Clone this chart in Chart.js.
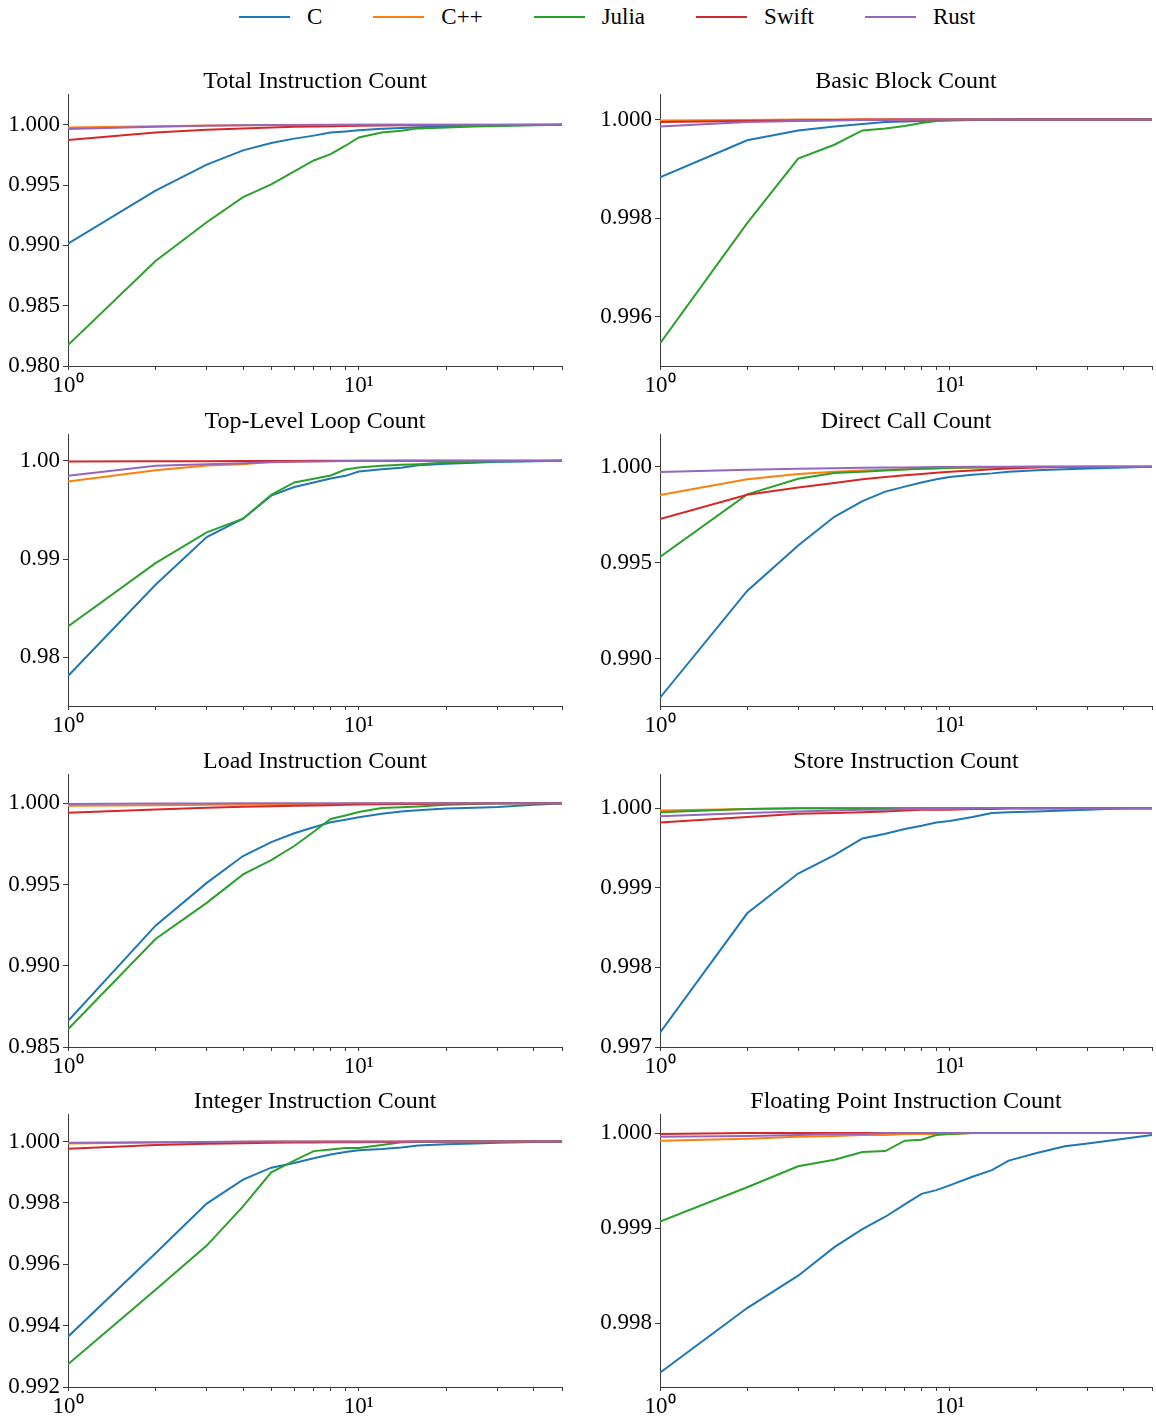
<!DOCTYPE html>
<html>
<head>
<meta charset="utf-8">
<script src="https://cdn.jsdelivr.net/npm/chart.js@4.4.1/dist/chart.umd.min.js"></script>
<style>
  body { margin: 0; background: #fff; width: 1156px; height: 1416px; position: relative; overflow: hidden; }
  canvas { position: absolute; }
  #legend { position: absolute; top: 0; left: 239px; height: 34px; display: flex; align-items: center; gap: 51px;
            font-family: "Liberation Serif", serif; font-size: 23px; color: #000; }
  #legend .item { display: flex; align-items: center; gap: 17px; }
  #legend .line { display: inline-block; width: 51px; height: 2px; }
</style>
</head>
<body>
<div id="legend"></div>
<script>
const xs = [1, 2, 3, 4, 5, 6, 7, 8, 9, 10, 12, 14, 16, 20, 25, 30, 40, 50]
const xTicks = [1, 2, 3, 4, 5, 6, 7, 8, 9, 10, 20, 30, 40, 50]
const languages = ['C', 'C++', 'Julia', 'Swift', 'Rust']
const colors = ['#1f77b4', '#ff7f0e', '#2ca02c', '#d62728', '#9467bd']

// Total Instruction Count
const totalC = [0.99014, 0.99454, 0.99669, 0.99788, 0.99849, 0.99885, 0.9991, 0.99935, 0.99945, 0.99954, 0.99966, 0.99974, 0.9998, 0.99988, 0.99993, 0.99995, 0.99998, 1]
const totalCpp = [0.99978, 0.99988, 0.99994, 0.99996, 0.99998, 0.99999, 1, 1, 1, 1, 1, 1, 1, 1, 1, 1, 1, 1]
const totalJulia = [0.98174, 0.98871, 0.99192, 0.994, 0.99505, 0.99613, 0.99704, 0.99757, 0.99826, 0.99895, 0.99936, 0.9995, 0.9997, 0.99977, 0.99985, 0.9999, 0.99996, 1]
const totalSwift = [0.99873, 0.99936, 0.99959, 0.9997, 0.99978, 0.99983, 0.99986, 0.99988, 0.9999, 0.99992, 0.99994, 0.99995, 0.99996, 0.99997, 0.99998, 0.99999, 1, 1]
const totalRust = [0.99964, 0.99983, 0.99992, 0.99995, 0.99997, 0.99998, 0.99999, 0.99999, 1, 1, 1, 1, 1, 1, 1, 1, 1, 1]

// Basic Block Count
const blockC = [0.99883, 0.99958, 0.99978, 0.99986, 0.99991, 0.99995, 0.99996, 0.99997, 0.99998, 0.99998, 0.99999, 0.99999, 1, 1, 1, 1, 1, 1]
const blockCpp = [0.99998, 0.99999, 1, 1, 1, 1, 1, 1, 1, 1, 1, 1, 1, 1, 1, 1, 1, 1]
const blockJulia = [0.99546, 0.9979, 0.99921, 0.99949, 0.99978, 0.99982, 0.99987, 0.99993, 0.99997, 0.99999, 1, 1, 1, 1, 1, 1, 1, 1]
const blockSwift = [0.99995, 0.99997, 0.99998, 0.99999, 1, 1, 1, 1, 1, 1, 1, 1, 1, 1, 1, 1, 1, 1]
const blockRust = [0.99986, 0.99995, 0.99997, 0.99998, 0.99999, 0.99999, 1, 1, 1, 1, 1, 1, 1, 1, 1, 1, 1, 1]

// Top-Level Loop Count
const loopC = [0.9781, 0.98739, 0.99224, 0.99411, 0.99645, 0.99733, 0.9978, 0.9982, 0.99847, 0.99891, 0.99915, 0.99929, 0.99956, 0.9997, 0.9998, 0.9999, 0.99996, 1]
const loopCpp = [0.99789, 0.99905, 0.99952, 0.99966, 0.9999, 0.99994, 0.99996, 0.99998, 0.99999, 1, 1, 1, 1, 1, 1, 1, 1, 1]
const loopJulia = [0.98314, 0.98959, 0.99272, 0.99411, 0.99654, 0.9978, 0.99817, 0.99851, 0.99912, 0.99932, 0.99949, 0.99959, 0.99966, 0.99983, 0.9999, 0.99993, 0.99998, 1]
const loopSwift = [0.99993, 0.99995, 0.99996, 0.99997, 0.99998, 0.99999, 1, 1, 1, 1, 1, 1, 1, 1, 1, 1, 1, 1]
const loopRust = [0.99847, 0.99949, 0.99966, 0.99976, 0.99986, 0.9999, 0.99993, 0.99995, 0.99997, 0.99998, 0.99999, 1, 1, 1, 1, 1, 1, 1]

// Direct Call Count
const callC = [0.98797, 0.99353, 0.9959, 0.99739, 0.99821, 0.9987, 0.99896, 0.99918, 0.99934, 0.99946, 0.99958, 0.99965, 0.99974, 0.99981, 0.99986, 0.9999, 0.99996, 1]
const callCpp = [0.99852, 0.99934, 0.99962, 0.99974, 0.9998, 0.99984, 0.99987, 0.99989, 0.99991, 0.99993, 0.99995, 0.99997, 0.99998, 1, 1, 1, 1, 1]
const callJulia = [0.9953, 0.99856, 0.99937, 0.99967, 0.99974, 0.9998, 0.99985, 0.99989, 0.99992, 0.99994, 0.99996, 0.99997, 0.99998, 1, 1, 1, 1, 1]
const callSwift = [0.99727, 0.99854, 0.99892, 0.99915, 0.99934, 0.99946, 0.99955, 0.99962, 0.99968, 0.99974, 0.9998, 0.99986, 0.9999, 0.99995, 0.99998, 0.99999, 1, 1]
const callRust = [0.99972, 0.99984, 0.99989, 0.99992, 0.99994, 0.99995, 0.99996, 0.99997, 0.99998, 0.99998, 0.99999, 1, 1, 1, 1, 1, 1, 1]

// Load Instruction Count
const loadC = [0.9866, 0.99247, 0.9951, 0.99675, 0.99761, 0.99815, 0.99852, 0.99883, 0.99899, 0.99914, 0.99936, 0.99949, 0.99957, 0.99967, 0.99972, 0.99977, 0.9999, 0.99998]
const loadCpp = [0.99984, 0.99988, 0.9999, 0.99992, 0.99993, 0.99994, 0.99995, 0.99996, 0.99997, 0.99998, 0.99999, 1, 1, 1, 1, 1, 1, 1]
const loadJulia = [0.98609, 0.99165, 0.99387, 0.99562, 0.9965, 0.99737, 0.99825, 0.99903, 0.99925, 0.99946, 0.99971, 0.99975, 0.9998, 0.9999, 0.99995, 0.99998, 1, 1]
const loadSwift = [0.99942, 0.99961, 0.99973, 0.99978, 0.99981, 0.99984, 0.99986, 0.99988, 0.9999, 0.99992, 0.99994, 0.99995, 0.99996, 0.99998, 0.99999, 1, 1, 1]
const loadRust = [0.99996, 0.99998, 0.99999, 1, 1, 1, 1, 1, 1, 1, 1, 1, 1, 1, 1, 1, 1, 1]

// Store Instruction Count
const storeC = [0.99718, 0.99868, 0.99918, 0.99941, 0.99962, 0.99968, 0.99974, 0.99978, 0.99982, 0.99984, 0.99989, 0.99994, 0.99995, 0.99996, 0.99997, 0.99998, 1, 1]
const storeCpp = [0.99997, 0.99999, 1, 1, 1, 1, 1, 1, 1, 1, 1, 1, 1, 1, 1, 1, 1, 1]
const storeJulia = [0.99995, 0.99999, 1, 1, 1, 1, 1, 1, 1, 1, 1, 1, 1, 1, 1, 1, 1, 1]
const storeSwift = [0.99982, 0.99989, 0.99993, 0.99994, 0.99995, 0.99996, 0.99997, 0.99998, 0.99998, 0.99998, 0.99999, 0.99999, 1, 1, 1, 1, 1, 1]
const storeRust = [0.9999, 0.99994, 0.99996, 0.99997, 0.99998, 0.99998, 0.99999, 0.99999, 0.99999, 0.99999, 1, 1, 1, 1, 1, 1, 1, 1]

// Integer Instruction Count
const intC = [0.99364, 0.99636, 0.99798, 0.99876, 0.99915, 0.9993, 0.99946, 0.99958, 0.99966, 0.99972, 0.99976, 0.99981, 0.99987, 0.99991, 0.99994, 0.99996, 0.99999, 1]
const intCpp = [0.99994, 0.99997, 0.99998, 0.99999, 1, 1, 1, 1, 1, 1, 1, 1, 1, 1, 1, 1, 1, 1]
const intJulia = [0.99274, 0.99517, 0.99661, 0.99789, 0.999, 0.99938, 0.99969, 0.99974, 0.99979, 0.99979, 0.99989, 0.99998, 0.99999, 1, 1, 1, 1, 1]
const intSwift = [0.99977, 0.99989, 0.99993, 0.99995, 0.99996, 0.99997, 0.99997, 0.99998, 0.99998, 0.99998, 0.99999, 0.99999, 1, 1, 1, 1, 1, 1]
const intRust = [0.99996, 0.99998, 0.99999, 1, 1, 1, 1, 1, 1, 1, 1, 1, 1, 1, 1, 1, 1, 1]

// Floating Point Instruction Count
const floatC = [0.99748, 0.99816, 0.9985, 0.9988, 0.99899, 0.99912, 0.99925, 0.99936, 0.9994, 0.99945, 0.99954, 0.99961, 0.99971, 0.99979, 0.99986, 0.99989, 0.99994, 0.99998]
const floatCpp = [0.99992, 0.99994, 0.99996, 0.99997, 0.99998, 0.99998, 0.99999, 0.99999, 0.99999, 0.99999, 1, 1, 1, 1, 1, 1, 1, 1]
const floatJulia = [0.99907, 0.99943, 0.99965, 0.99972, 0.9998, 0.99981, 0.99992, 0.99993, 0.99998, 0.99999, 1, 1, 1, 1, 1, 1, 1, 1]
const floatSwift = [0.99999, 1, 1, 1, 1, 1, 1, 1, 1, 1, 1, 1, 1, 1, 1, 1, 1, 1]
const floatRust = [0.99996, 0.99997, 0.99998, 0.99999, 0.99999, 1, 1, 1, 1, 1, 1, 1, 1, 1, 1, 1, 1, 1]

const panels = [
    { title: 'Total Instruction Count', series: [totalC, totalCpp, totalJulia, totalSwift, totalRust],
      yMin: 0.980, yMax: 1.00255, yTicks: [0.980, 0.985, 0.990, 0.995, 1.000], dec: 3 },
    { title: 'Basic Block Count', series: [blockC, blockCpp, blockJulia, blockSwift, blockRust],
      yMin: 0.99500, yMax: 1.00052, yTicks: [0.996, 0.998, 1.000], dec: 3 },
    { title: 'Top-Level Loop Count', series: [loopC, loopCpp, loopJulia, loopSwift, loopRust],
      yMin: 0.97504, yMax: 1.00273, yTicks: [0.98, 0.99, 1.00], dec: 2 },
    { title: 'Direct Call Count', series: [callC, callCpp, callJulia, callSwift, callRust],
      yMin: 0.98754, yMax: 1.0017, yTicks: [0.990, 0.995, 1.000], dec: 3 },
    { title: 'Load Instruction Count', series: [loadC, loadCpp, loadJulia, loadSwift, loadRust],
      yMin: 0.985, yMax: 1.0018, yTicks: [0.985, 0.990, 0.995, 1.000], dec: 3 },
    { title: 'Store Instruction Count', series: [storeC, storeCpp, storeJulia, storeSwift, storeRust],
      yMin: 0.997, yMax: 1.00043, yTicks: [0.997, 0.998, 0.999, 1.000], dec: 3 },
    { title: 'Integer Instruction Count', series: [intC, intCpp, intJulia, intSwift, intRust],
      yMin: 0.992, yMax: 1.0009, yTicks: [0.992, 0.994, 0.996, 0.998, 1.000], dec: 3 },
    { title: 'Floating Point Instruction Count', series: [floatC, floatCpp, floatJulia, floatSwift, floatRust],
      yMin: 0.99733, yMax: 1.0002, yTicks: [0.998, 0.999, 1.000], dec: 3 },
]

// plot area of each row (top, bottom) and each column (left, right) on the page
const rows = [[94, 366], [434, 706], [774, 1047], [1114, 1387]]
const cols = [[68, 562], [660, 1152]]
const yAxisW = 68
const xAxisH = 30
const titleH = 44
const font = 'Liberation Serif'
const axisColor = '#3a3a3a'

// legend
const legend = document.getElementById('legend')
languages.forEach((name, i) => {
    const item = document.createElement('div')
    item.className = 'item'
    item.innerHTML = `<span class="line" style="background:${colors[i]}"></span><span>${name}</span>`
    legend.appendChild(item)
})

panels.forEach((p, k) => {
    const [top, bottom] = rows[Math.floor(k / 2)]
    const [left, right] = cols[k % 2]
    const canvas = document.createElement('canvas')
    const cx = left - yAxisW
    const cw = k % 2 === 0 ? 580 : 1156 - cx
    canvas.width = cw
    canvas.height = titleH + (bottom - top) + xAxisH
    canvas.style.left = cx + 'px'
    canvas.style.top = (top - titleH) + 'px'
    document.body.appendChild(canvas)

    new Chart(canvas, {
        type: 'line',
        data: {
            datasets: languages.map((name, i) => ({
                label: name,
                data: xs.map((x, j) => ({ x: x, y: p.series[i][j] })),
                borderColor: colors[i],
                backgroundColor: colors[i],
                borderWidth: 2,
                pointRadius: 0,
                fill: false,
                tension: 0,
                order: languages.length - i,
            })),
        },
        options: {
            responsive: false,
            animation: false,
            layout: { padding: { left: 0, right: cw - (right - cx), top: 0, bottom: 0 } },
            plugins: {
                legend: { display: false },
                tooltip: { enabled: false },
                title: {
                    display: true,
                    fullSize: false,
                    text: p.title,
                    color: '#000',
                    font: { family: font, size: 24, weight: 'normal', lineHeight: 1 },
                    padding: { top: titleH - 24, bottom: 0 },
                },
            },
            scales: {
                x: {
                    type: 'logarithmic',
                    min: 1,
                    max: 50,
                    afterBuildTicks: (s) => { s.ticks = xTicks.map(v => ({ value: v })) },
                    afterFit: (s) => { s.height = xAxisH },
                    ticks: {
                        autoSkip: false,
                        maxRotation: 0,
                        padding: 2,
                        color: '#000',
                        font: { family: font, size: 23 },
                        callback: (v) => v === 1 ? '10⁰' : v === 10 ? '10¹' : '',
                    },
                    grid: { drawOnChartArea: false, tickLength: 4, tickColor: axisColor },
                    border: { color: axisColor, width: 1 },
                },
                y: {
                    min: p.yMin,
                    max: p.yMax,
                    afterBuildTicks: (s) => { s.ticks = p.yTicks.map(v => ({ value: v })) },
                    afterFit: (s) => { s.width = yAxisW },
                    ticks: {
                        autoSkip: false,
                        padding: 3,
                        color: '#000',
                        font: { family: font, size: 23 },
                        callback: (v) => Number(v).toFixed(p.dec),
                    },
                    grid: { drawOnChartArea: false, tickLength: 5, tickColor: axisColor },
                    border: { color: axisColor, width: 1 },
                },
            },
        },
    })
})
</script>
</body>
</html>
